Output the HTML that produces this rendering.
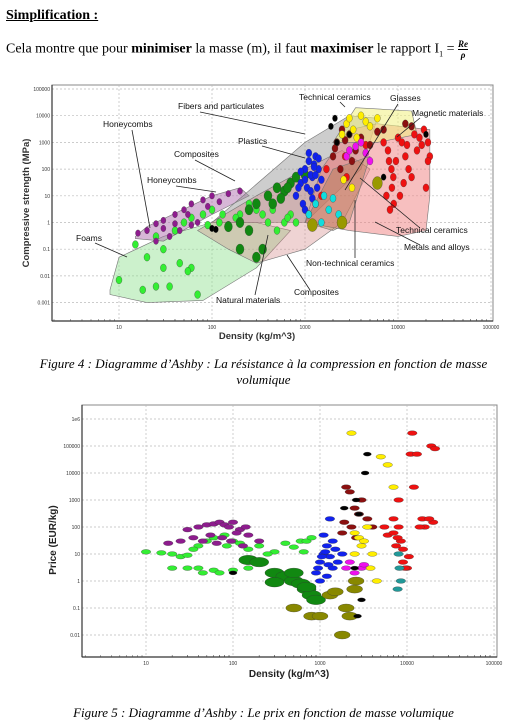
<!DOCTYPE html>
<html><head><meta charset="utf-8">
<style>
body{margin:0;width:527px;height:726px;background:#fff;overflow:hidden;position:relative;font-family:"Liberation Serif",serif;}
.t{position:absolute;white-space:nowrap;color:#000}
svg{position:absolute;left:0;top:0}
svg text{font-family:"Liberation Sans",sans-serif}
</style></head><body>
<div class="t" style="left:6px;top:8px;font-size:14px;font-weight:bold;text-decoration:underline">Simplification :</div>
<div class="t" style="left:6px;top:39px;font-size:14px">Cela montre que pour <b>minimiser</b> la masse (m), il faut <b>maximiser</b> le rapport I<sub style="font-size:8px">1</sub> = <span style="display:inline-block;vertical-align:middle;text-align:center;font-size:9px;font-weight:bold;font-style:italic;line-height:10px"><span style="display:block;border-bottom:1px solid #000">Re</span><span style="display:block">ρ</span></span></div>
<div class="t" style="left:0;width:527px;text-align:center;top:356px;font-size:13px;font-style:italic;line-height:16px;white-space:normal">Figure 4 : Diagramme d’Ashby : La résistance à la compression en fonction de masse<br>volumique</div>
<div class="t" style="left:0;width:527px;text-align:center;top:705px;font-size:13px;font-style:italic">Figure 5 : Diagramme d’Ashby : Le prix en fonction de masse volumique</div>
<svg id="s" width="527" height="726"></svg>
<script>
// ---------- Chart 1 data (density kg/m3, compressive strength MPa) ----------
const c1xTicks=[10,100,1000,10000,100000];
const c1yTicks=[0.001,0.01,0.1,1,10,100,1000,10000,100000];
const c1Envelopes=[
 {name:'foams-envelope',fill:'#8ee08e',op:0.45,pts:[[8,0.003],[10,0.05],[30,0.3],[100,1],[300,1],[700,0.5],[300,0.02],[80,0.0012],[20,0.001],[8,0.002]]},
 {name:'honeycombs-envelope',fill:'#b070b0',op:0.5,pts:[[15,0.3],[20,0.7],[100,10],[200,20],[250,10],[100,2],[30,0.2],[15,0.25]]},
 {name:'fibers-envelope',fill:'#909090',op:0.45,pts:[[100,1],[1000,1000],[3000,10000],[6000,8000],[4000,100],[1000,1]]},
 {name:'composites-envelope',fill:'#d08080',op:0.35,pts:[[70,0.5],[300,10],[1000,100],[2500,500],[5000,100],[2500,1],[1000,0.1],[300,0.03],[150,0.1]]},
 {name:'metals-envelope',fill:'#f08080',op:0.5,pts:[[1000,1],[1500,100],[3000,3000],[6000,5000],[22000,3000],[22000,10],[20000,0.5],[10000,0.3],[3000,0.5]]},
 {name:'ceramics-envelope',fill:'#f0f080',op:0.55,pts:[[2000,1000],[3500,20000],[14000,15000],[16000,2000],[6000,1000]]},
 {name:'nontech-ceramics-envelope',fill:'#a07040',op:0.35,pts:[[1000,1],[2000,100],[5000,300],[3000,1],[2000,0.5]]}
];
const c1Series=[
 {name:'foam',color:'#33ee33',r:3,d:[10,15,20,25,30,40,50,60,80,100,120,150,200,250,300,400,500,600,700,800,30,45,60,35,25,18,55,70,90,130,180,350,450,650],v:[0.007,0.15,0.05,0.3,0.1,0.5,1,1.5,2,3,1,0.8,2,5,3,1,0.5,1,2,1,0.02,0.03,0.02,0.004,0.004,0.003,0.015,0.002,0.8,2,1.5,2,3,1.5]},
 {name:'honeycomb',color:'#8e1c8e',r:2.5,d:[16,20,25,30,40,50,60,80,100,150,200,25,35,45,60,70,55,90,40,30,120],v:[0.4,0.5,0.9,1.2,2,3,5,7,10,12,15,0.2,0.3,0.5,0.8,1,2,4,0.9,0.6,6]},
 {name:'natural',color:'#118811',r:4,d:[150,200,250,300,400,500,600,700,800,1000,200,300,350,250,450,550,650],v:[0.7,1,3,5,10,20,15,30,50,60,0.1,0.05,0.1,0.5,5,8,20]},
 {name:'plastic',color:'#1122ee',r:3,d:[800,900,1000,1100,1200,1300,1400,1500,950,1050,1150,1250,1350,1000,1200,1400,900,1100,1000,1150,1300,850,1250],v:[10,30,100,200,50,300,100,40,5,20,60,150,20,3,8,250,80,400,40,15,60,20,120]},
 {name:'metal',color:'#ee1111',r:3,d:[1700,2700,2800,4500,7000,7800,8000,8500,8900,10000,11000,12000,15000,19000,21000,22000,7500,9000,13000,16000,18000,20000,6000,8200,10500,14000,1100,1300,1500,9500,11500,17000,21000,8600,12500],v:[100,300,50,800,1000,500,200,100,50,1500,1000,300,2000,3000,1000,300,10,5,100,500,800,20,30,3,10,50,2,5,10,200,30,1500,200,20,800]},
 {name:'ceramic-dark',color:'#8b1010',r:3,d:[2000,2200,2500,3000,3500,4000,5000,6000,7000,12000,14000,2400,3200,2100,2700],v:[300,1000,3000,2000,500,1500,800,2500,3000,5000,4000,100,200,600,1200]},
 {name:'glass',color:'#ffee00',r:3,d:[2500,2800,3000,3300,3600,4000,4500,5000,6000,3200,2600],v:[2000,5000,8000,3000,1500,10000,6000,4000,8000,20,40]},
 {name:'magnetic',color:'#ee11ee',r:3,d:[2800,3000,3500,4000,4500,5000],v:[300,500,700,1000,400,200]},
 {name:'cyan-fiber',color:'#11dddd',r:3,d:[1100,1300,1500,1800,2000,2300,1600],v:[2,5,1,3,8,2,10]},
 {name:'olive',color:'#999900',r:5,d:[1200,2500,6000],v:[0.8,1,30]},
 {name:'black',color:'#000000',r:2.5,d:[1900,2100,3000,7000,20000,100,110,2200],v:[4000,8000,2000,50,2000,0.6,0.55,1000]}
];
// ---------- Chart 2 data (density, price EUR/kg) ----------
const c2xTicks=[10,100,1000,10000,100000];
const c2yTicks=[0.01,0.1,1,10,100,1000,10000,100000,1000000];
const c2Series=[
 {name:'foam',color:'#33ee33',r:3,d:[10,15,20,25,30,40,50,60,80,100,120,150,200,300,400,500,600,700,800,20,30,40,60,100,150,45,70,35,85,250,650],v:[12,11,10,8,9,20,30,40,50,30,25,15,20,12,25,18,30,30,40,3,3,3,2.5,2.5,3,2,2,15,20,10,12]},
 {name:'honeycomb',color:'#8e1c8e',r:3,d:[18,25,30,40,50,60,70,80,90,100,120,150,200,35,55,75,110,140,45,65,95,130],v:[25,30,80,100,120,130,150,120,100,150,80,50,30,40,50,40,60,100,30,25,30,20]},
 {name:'natural',color:'#118811',r:6,d:[150,200,300,400,500,600,700,800,900,300,500,700],v:[6,5,2,1.5,1,0.8,0.5,0.3,0.2,0.9,2,0.6]},
 {name:'plastic',color:'#1122ee',r:3,d:[900,1000,1100,1200,1300,1400,1500,1600,1800,1000,1200,1400,950,1100,1300,1050,1250,1150],v:[2,5,10,20,8,3,15,5,10,1,1.5,30,3,50,200,8,4,12]},
 {name:'metal',color:'#ee1111',r:3,d:[5500,6000,7000,8000,8500,9000,10000,11000,12000,15000,19000,21000,11500,13000,16000,20000,8000,9500,7500,7000,7800,9000,10500,14000,18000],v:[100,50,200,100,30,5,3,50000,3000,200,100000,80000,300000,50000,100,150,1000,3,20,60,40,15,8,100,200]},
 {name:'ceramic-dark',color:'#8b1010',r:3,d:[2000,2200,2500,2800,3000,3500,4000,2300,1800,1900,2600],v:[3000,2000,500,300,1000,200,100,100,60,150,40]},
 {name:'glass',color:'#ffee00',r:3,d:[2300,2500,2800,3000,3500,4000,5000,6000,7000,3800,4500,2500,3200],v:[300000,60,40,20,100,10,40000,20000,3000,3,1,10,30]},
 {name:'magnetic',color:'#ee11ee',r:3,d:[2000,2200,2500,3000,3200],v:[3,5,2,3,4]},
 {name:'teal',color:'#229999',r:3,d:[8000,8200,8500,7800],v:[10,3,1,0.5]},
 {name:'olive',color:'#888800',r:5,d:[500,800,1000,1300,1500,2000,2200,2500,2600,1800],v:[0.1,0.05,0.05,0.3,0.4,0.1,0.05,0.5,1,0.01]},
 {name:'black',color:'#000000',r:2.5,d:[3500,3300,2600,2800,3000,2700,2500,100,1900],v:[50000,10000,1000,300,0.2,0.05,3,2,500]}
];

const svg=document.getElementById('s');
const NS='http://www.w3.org/2000/svg';
function mk(tag,attrs,parent){const e=document.createElementNS(NS,tag);for(const k in attrs)e.setAttribute(k,attrs[k]);(parent||svg).appendChild(e);return e;}
const L=Math.log10;
const X1=d=>119+93*(L(d)-1), Y1=v=>89+26.7*(5-L(v));
const X2=d=>146+87*(L(d)-1), Y2=v=>419+27*(6-L(v));

function frame(x0,y0,x1,y1,xt,yt,X,Y,pref){
  const g=mk('g',{});
  
  
  mk('rect',{x:x0,y:y0,width:x1-x0,height:y1-y0,fill:'#fff',stroke:'#888','stroke-width':1},g);
  xt.forEach(t=>{const x=X(t);mk('line',{x1:x,y1:y0,x2:x,y2:y1,stroke:'#bbb','stroke-dasharray':'2,2','stroke-width':0.7},g);
    const tx=mk('text',{x:x,y:y1+8,'font-size':5,'text-anchor':'middle',fill:'#333'},g);tx.textContent=t;
    
    for(let k=2;k<10;k++){const xx=X(t*k);if(xx<x1)mk('line',{x1:xx,y1:y1,x2:xx,y2:y1-2,stroke:'#555','stroke-width':0.5},g);}
    for(let k=2;k<10;k++){const xx=X(t/10*k);if(xx>x0)mk('line',{x1:xx,y1:y1,x2:xx,y2:y1-2,stroke:'#555','stroke-width':0.5},g);}});
  yt.forEach(t=>{const y=Y(t);mk('line',{x1:x0,y1:y,x2:x1,y2:y,stroke:'#bbb','stroke-dasharray':'2,2','stroke-width':0.7},g);
    const tx=mk('text',{x:x0-2,y:y+2,'font-size':5,'text-anchor':'end',fill:'#333'},g);tx.textContent=t>=1e6?'1e6':t;
    });
  mk('line',{x1:x0,y1:y1,x2:x1,y2:y1,stroke:'#333','stroke-width':1.2},g);
  mk('line',{x1:x0,y1:y0,x2:x0,y2:y1,stroke:'#333','stroke-width':1.2},g);
}
function series(arr,X,Y,pref,ry){
  arr.forEach(s=>{const g=mk('g',{});
    
    
    s.d.forEach((d,i)=>{const c=mk('ellipse',{cx:X(d),cy:Y(s.v[i]),rx:s.r*(ry?1.6:1),ry:s.r*(ry?0.8:1.3),fill:s.color,stroke:'#333','stroke-width':0.3},g);
      
      });});
}
frame(52,85,493,321,c1xTicks,c1yTicks,X1,Y1,'chart1');
c1Envelopes.forEach(e=>{const p=mk('polygon',{points:e.pts.map(q=>X1(q[0])+','+Y1(q[1])).join(' '),fill:e.fill,'fill-opacity':e.op,stroke:'#777','stroke-width':0.6});
  });
series(c1Series,X1,Y1,'chart1',false);
const labels1=[['Technical ceramics',299,100,[340,102,345,107]],['Glasses',390,101,[398,104,345,190]],['Fibers and particulates',178,109,[200,112,305,134]],['Magnetic materials',412,116,[420,118,397,137]],['Honeycombs',103,127,[132,130,150,228]],['Plastics',238,144,[262,146,305,158]],['Composites',174,157,[195,160,235,181]],['Honeycombs',147,183,[176,186,216,192]],['Foams',76,241,[95,243,127,257]],['Technical ceramics',396,233,[420,228,360,178]],['Metals and alloys',404,250,[420,245,375,222]],['Non-technical ceramics',306,266,[355,258,355,200]],['Composites',294,295,[310,290,287,255]],['Natural materials',216,303,[255,295,268,235]]];
labels1.forEach(l=>{const ln=mk('line',{x1:l[3][0],y1:l[3][1],x2:l[3][2],y2:l[3][3],stroke:'#222','stroke-width':0.8});
  
  const t=mk('text',{x:l[1],y:l[2],'font-size':8.5,fill:'#111'});t.textContent=l[0];
  });
let t=mk('text',{x:257,y:339,'font-size':9.5,'font-weight':'bold','text-anchor':'middle',fill:'#333'});t.textContent='Density (kg/m^3)';

t=mk('text',{x:29,y:203,'font-size':9.5,'font-weight':'bold','text-anchor':'middle',fill:'#333',transform:'rotate(-90 29 203)'});t.textContent='Compressive strength (MPa)';

frame(82,405,497,657,c2xTicks,c2yTicks,X2,Y2,'chart2');
series(c2Series,X2,Y2,'chart2',true);
t=mk('text',{x:289,y:677,'font-size':10,'font-weight':'bold','text-anchor':'middle',fill:'#222'});t.textContent='Density (kg/m^3)';

t=mk('text',{x:56,y:540,'font-size':10,'font-weight':'bold','text-anchor':'middle',fill:'#222',transform:'rotate(-90 56 540)'});t.textContent='Price (EUR/kg)';

</script>
</body></html>
